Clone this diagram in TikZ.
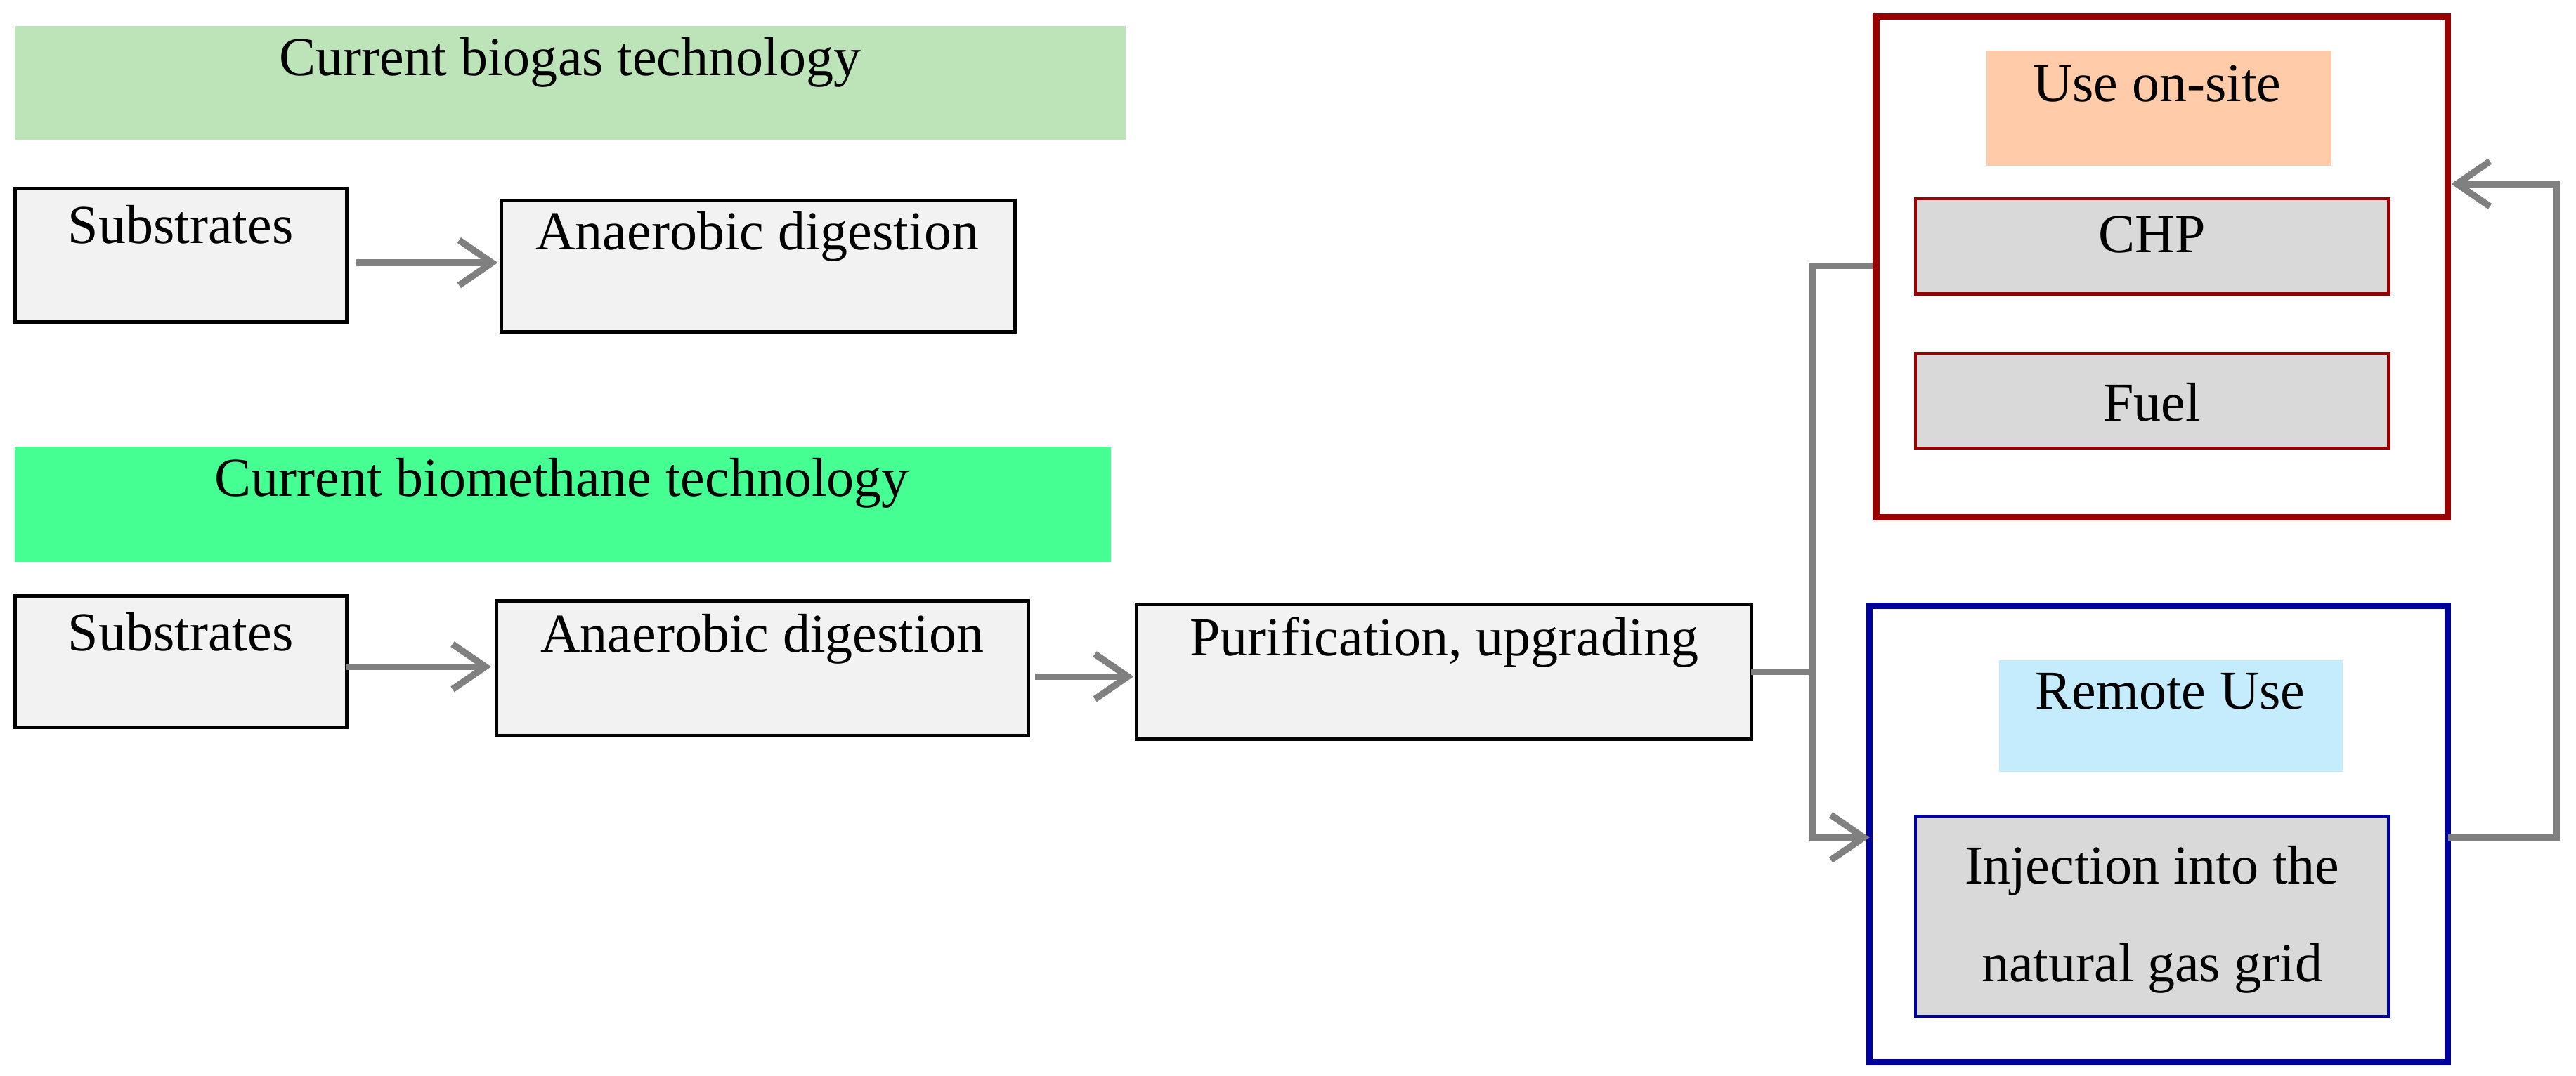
\documentclass[tikz,border=0pt]{standalone}
\usepackage{fontspec}
\setmainfont{Liberation Serif}
\usetikzlibrary{arrows.meta}
\definecolor{gbar}{RGB}{189,227,184}
\definecolor{bbar}{RGB}{69,255,146}
\definecolor{dred}{RGB}{155,0,0}
\definecolor{dblue}{RGB}{0,0,155}
\definecolor{orng}{RGB}{255,203,168}
\definecolor{lblue}{RGB}{197,236,253}
\definecolor{boxg}{RGB}{242,242,242}
\definecolor{boxd}{RGB}{217,217,217}
\definecolor{conn}{RGB}{128,128,128}
\begin{document}
\begin{tikzpicture}[x=0.02cm,y=-0.02cm,
  txt/.style={font=\fontsize{19}{23}\selectfont,inner sep=0pt},
  pbox/.style={draw=black,line width=1.2pt,fill=boxg},
  conn/.style={draw=conn,line width=2.3pt},
  arr/.style={conn,-{Straight Barb[length=0.4cm,width=0.55cm,line width=2.3pt]}}]
\useasboundingbox (0,0) rectangle (1568,655);
% bars
\fill[gbar] (9,16) rectangle (685,85);
\node[txt] (t1) at (347,38) {Current biogas technology};
\fill[bbar] (9,272) rectangle (676,342);
\node[txt] (t2) at (342,294) {Current biomethane technology};
% row 1
\draw[pbox] (9,115) rectangle (211,196);
\node[txt] (s1) at (110,137) {Substrates};
\draw[pbox] (305,122) rectangle (618,202);
\node[txt] (a1) at (461,144) {Anaerobic digestion};
\coordinate (c1a) at (217,160); \coordinate (c1b) at (303,160);
\draw[arr] (c1a) -- (c1b);
% row 2
\draw[pbox] (9,363) rectangle (211,443);
\node[txt] (s2) at (110,385) {Substrates};
\draw[pbox] (302,366) rectangle (626,448);
\node[txt] (a2) at (464,389) {Anaerobic digestion};
\draw[pbox] (692,368) rectangle (1066,450);
\node[txt] (p2) at (879,391) {Purification, upgrading};
\coordinate (c2a) at (211,406); \coordinate (c2b) at (299,406);
\coordinate (c3a) at (630,412); \coordinate (c3b) at (690,412);
\draw[arr] (c2a) -- (c2b);
\draw[arr] (c3a) -- (c3b);
% red box
\draw[dred,line width=2.3pt] (1142,10) rectangle (1490,315);
\fill[orng] (1209,31) rectangle (1419,101);
\node[txt] (u) at (1313,51) {Use on-site};
\draw[dred,line width=1pt,fill=boxd] (1166,121) rectangle (1454,179);
\node[txt] (chp) at (1310,143) {CHP};
\draw[dred,line width=1pt,fill=boxd] (1166,215) rectangle (1454,273);
\node[txt] (fuel) at (1310,245) {Fuel};
% blue box
\draw[dblue,line width=2.3pt] (1138,369) rectangle (1490,647);
\fill[lblue] (1217,402) rectangle (1426,470);
\node[txt] (r) at (1321,421) {Remote Use};
\draw[dblue,line width=1pt,fill=boxd] (1166,497) rectangle (1454,619);
\node[txt,align=center,font=\fontsize{19}{34}\selectfont] (inj) at (1310,560) {Injection into the\\natural gas grid};
% connectors
\coordinate (j0) at (1066,409); \coordinate (j1) at (1103,409);
\coordinate (j2) at (1140,162); \coordinate (j3) at (1138,510);
\draw[conn] (j0) -- (j1) |- (j2);
\draw[arr] (j1) |- (j3);
\coordinate (k0) at (1490,510); \coordinate (k1) at (1556,510);
\coordinate (k2) at (1492,112);
\draw[arr] (k0) -- (k1) |- (k2);
\end{tikzpicture}
\end{document}
